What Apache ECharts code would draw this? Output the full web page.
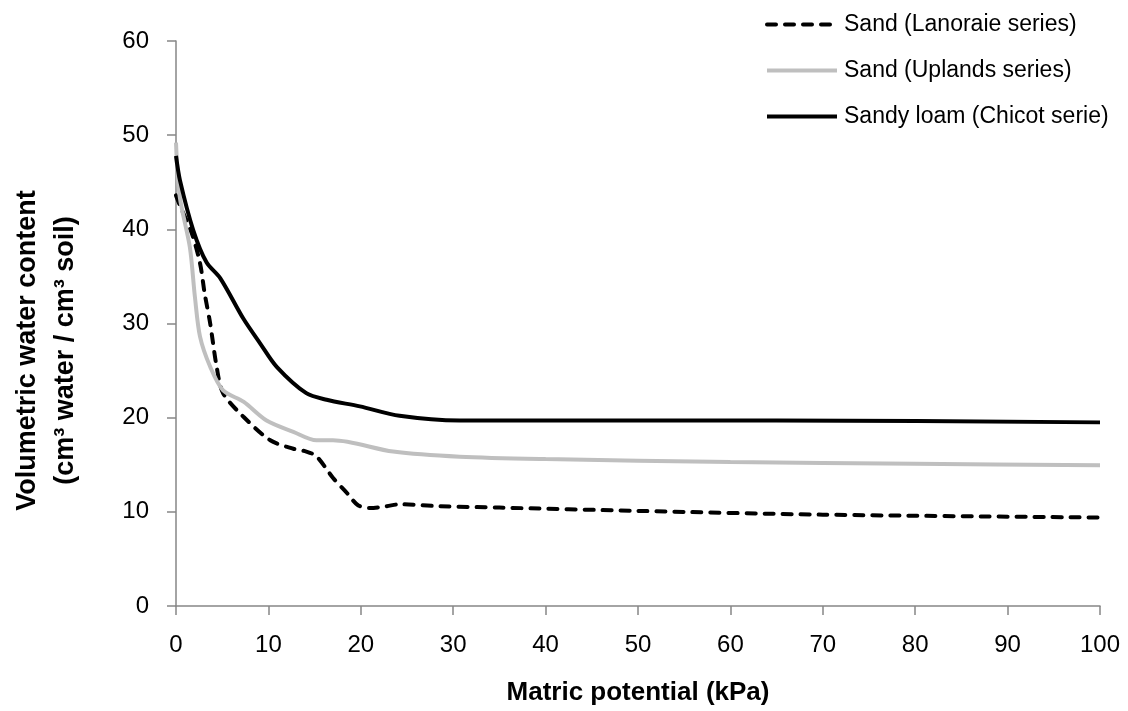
<!DOCTYPE html>
<html>
<head>
<meta charset="utf-8">
<script src="https://cdn.jsdelivr.net/npm/echarts@6/dist/echarts.min.js"></script>
<style>
html,body{margin:0;padding:0;background:#fff;}
#chart{width:1128px;height:711px;}
</style>
</head>
<body>
<div id="chart"></div>
<script>
// Data
const lanoraieKpa = [0, 0.4, 1.7, 2.6, 3.1, 3.7, 4.4, 5.1, 7.3, 10.2, 12.7, 14.1, 15.2, 17.0, 18.5, 19.7, 21.0, 22.8, 24.2, 28.5, 35, 50, 70, 100];
const lanoraieWater = [43.6, 42.6, 39.6, 36.4, 33.2, 30.0, 25.4, 22.6, 20.1, 17.6, 16.7, 16.4, 15.9, 13.6, 12.0, 10.7, 10.4, 10.6, 10.8, 10.6, 10.45, 10.1, 9.7, 9.4];

const uplandsKpa = [0, 0.4, 1.5, 2.05, 2.6, 3.7, 5.1, 7.3, 9.8, 12.7, 15.2, 17.0, 23.5, 30.7, 40, 60, 80, 100];
const uplandsWater = [49.2, 43.5, 38.1, 32.8, 28.6, 25.4, 22.9, 21.7, 19.7, 18.5, 17.6, 17.6, 16.4, 15.85, 15.6, 15.3, 15.1, 14.95];

const chicotKpa = [0, 0.43, 1.87, 3.3, 4.8, 7.3, 9.1, 10.9, 14.1, 16.3, 19.9, 24.2, 30.7, 40, 65, 100];
const chicotWater = [47.8, 45.2, 39.9, 36.5, 34.8, 30.5, 27.9, 25.4, 22.6, 21.9, 21.2, 20.2, 19.7, 19.7, 19.7, 19.5];

const seriesNames = ['Sand (Lanoraie series)', 'Sand (Uplands series)', 'Sandy loam (Chicot serie)'];
const xAxisTitle = 'Matric potential (kPa)';
const yAxisTitle = 'Volumetric water content\n(cm³ water / cm³ soil)';

function pairs(xs, ys) { return xs.map((x, i) => [x, ys[i]]); }

const FONT = 'Liberation Sans';
const chart = echarts.init(document.getElementById('chart'), null, {renderer: 'canvas'});
chart.setOption({
  animation: false,
  backgroundColor: '#ffffff',
  textStyle: {fontFamily: FONT},
  grid: {left: 176, right: 28, top: 41, bottom: 105, containLabel: false},
  legend: {
    orient: 'vertical',
    left: 760,
    top: 8,
    itemWidth: 70,
    itemHeight: 24,
    itemGap: 23,
    itemStyle: {opacity: 0},
    lineStyle: {width: 'inherit'},
    textStyle: {fontFamily: FONT, fontSize: 23, color: '#000', padding: [0, 0, 0, 2]},
    data: seriesNames
  },
  xAxis: {
    type: 'value',
    min: 0, max: 100, interval: 10,
    name: xAxisTitle,
    nameLocation: 'middle',
    nameGap: 74,
    nameTextStyle: {fontFamily: FONT, fontSize: 26, fontWeight: 'bold', color: '#000'},
    axisLine: {show: true, lineStyle: {color: '#868686', width: 1.5}},
    axisTick: {show: true, length: 9, lineStyle: {color: '#868686', width: 1.5}},
    axisLabel: {fontFamily: FONT, fontSize: 24, color: '#000', margin: 27},
    splitLine: {show: false}
  },
  yAxis: {
    type: 'value',
    min: 0, max: 60, interval: 10,
    name: yAxisTitle,
    nameLocation: 'middle',
    nameGap: 91,
    nameRotate: 90,
    nameTextStyle: {fontFamily: FONT, fontSize: 27, fontWeight: 'bold', color: '#000', lineHeight: 38, align: 'center', padding: [0, 54, 0, 0]},
    axisLine: {show: true, lineStyle: {color: '#868686', width: 1.5}},
    axisTick: {show: true, length: 9, lineStyle: {color: '#868686', width: 1.5}},
    axisLabel: {fontFamily: FONT, fontSize: 24, color: '#000', margin: 27},
    splitLine: {show: false}
  },
  series: [
    {
      name: seriesNames[0], type: 'line', smooth: 0.3, symbol: 'none',
      data: pairs(lanoraieKpa, lanoraieWater),
      lineStyle: {color: '#000000', width: 4, type: [9, 9], cap: 'round'},
      itemStyle: {color: '#000000'}
    },
    {
      name: seriesNames[1], type: 'line', smooth: 0.3, symbol: 'none',
      data: pairs(uplandsKpa, uplandsWater),
      lineStyle: {color: '#BFBFBF', width: 4},
      itemStyle: {color: '#BFBFBF'}
    },
    {
      name: seriesNames[2], type: 'line', smooth: 0.3, symbol: 'none',
      data: pairs(chicotKpa, chicotWater),
      lineStyle: {color: '#000000', width: 4},
      itemStyle: {color: '#000000'}
    }
  ]
});
</script>
</body>
</html>
